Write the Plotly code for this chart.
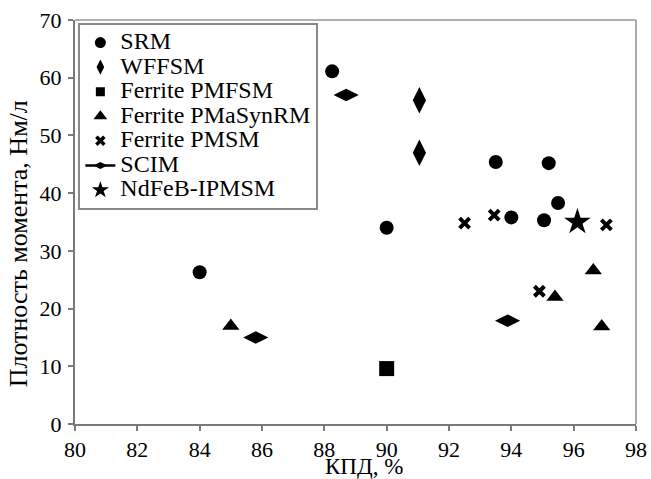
import plotly.graph_objects as go

# Data (КПД %, torque density Нм/л)
srm_x = [84.0, 88.25, 90.0, 93.5, 94.0, 95.2, 95.5, 95.05]
srm_y = [26.3, 61.1, 34.0, 45.4, 35.8, 45.2, 38.3, 35.3]

wffsm_x = [91.05, 91.05]
wffsm_y = [56.1, 47.0]

pmfsm_x = [90.0]
pmfsm_y = [9.6]

pmasynrm_x = [85.0, 96.63, 95.4, 96.9]
pmasynrm_y = [17.0, 26.6, 22.0, 16.9]

pmsm_x = [92.5, 93.45, 97.05, 94.9]
pmsm_y = [34.8, 36.2, 34.5, 23.0]

scim_x = [88.7, 85.8, 93.88]
scim_y = [57.0, 15.0, 17.9]

ndfeb_x = [96.12]
ndfeb_y = [35.0]

names = ["SRM", "WFFSM", "Ferrite PMFSM", "Ferrite PMaSynRM",
         "Ferrite PMSM", "SCIM", "NdFeB-IPMSM"]
xs = [srm_x, wffsm_x, pmfsm_x, pmasynrm_x, pmsm_x, scim_x, ndfeb_x]
ys = [srm_y, wffsm_y, pmfsm_y, pmasynrm_y, pmsm_y, scim_y, ndfeb_y]
symbols = ["circle", "diamond-tall", "square", "triangle-up",
           "x-thin-open", "diamond-wide", "star"]
sizes = [14, 19, 15, 15, 10, 18, 20]
leg_sizes = [11, 11, 9, 12, 8, 10, 13]

x_ticks = list(range(80, 99, 2))
y_ticks = list(range(0, 71, 10))

FONT = "Liberation Serif, Times New Roman, serif"
fig = go.Figure()

for name, x, y, sym, sz in zip(names, xs, ys, symbols, sizes):
    if sym == "x-thin-open":
        marker = dict(symbol=sym, size=sz, color="black",
                      line=dict(color="black", width=4))
    else:
        marker = dict(symbol=sym, size=sz, color="black",
                      line=dict(width=0))
    fig.add_trace(go.Scatter(x=x, y=y, mode="markers", name=name,
                             marker=marker, showlegend=False))

# legend entries with smaller markers
for name, sym, sz in zip(names, symbols, leg_sizes):
    if sym == "x-thin-open":
        marker = dict(symbol=sym, size=sz, color="black",
                      line=dict(color="black", width=3.5))
    else:
        marker = dict(symbol=sym, size=sz, color="black", line=dict(width=0))
    mode = "lines+markers" if sym == "diamond-wide" else "markers"
    fig.add_trace(go.Scatter(
        x=[None], y=[None], mode=mode,
        name='<span style="font-size:24px">' + name + "</span>",
        marker=marker, line=dict(color="black", width=2.5), showlegend=True))

axis_common = dict(
    showgrid=False, zeroline=False, showline=True, linecolor="#7a7a7a",
    linewidth=2, ticks="outside", ticklen=5, tickwidth=2, tickcolor="#7a7a7a",
    tickfont=dict(family=FONT, size=22, color="black"), automargin=False,
)

fig.update_xaxes(range=[80, 98], tickvals=x_ticks, **axis_common)
fig.update_yaxes(range=[0, 70], tickvals=y_ticks, ticklabelstandoff=2, **axis_common)

fig.update_layout(
    width=651, height=479,
    margin=dict(l=75, r=15, t=20, b=55),
    plot_bgcolor="white", paper_bgcolor="white",
    font=dict(family=FONT, color="black"),
    legend=dict(x=0.006, y=0.992, xanchor="left", yanchor="top",
                bgcolor="white", bordercolor="#8a8a8a", borderwidth=2,
                font=dict(family=FONT, size=16.6, color="black"),
                itemwidth=30, tracegroupgap=0),
    shapes=[
        dict(type="line", xref="paper", yref="paper", x0=0, x1=1, y0=1, y1=1,
             line=dict(color="#b0b0b0", width=2)),
        dict(type="line", xref="paper", yref="paper", x0=1, x1=1, y0=0, y1=1,
             line=dict(color="#a8a8a8", width=2)),
    ],
)
fig.add_annotation(text="КПД, %", xref="paper", yref="paper", x=0.515,
                   y=-0.104, xanchor="center", yanchor="middle", showarrow=False,
                   font=dict(family=FONT, size=23, color="black"))
fig.add_annotation(text="Плотность момента, Нм/л", xref="paper", yref="paper",
                   x=-0.1, y=0.447, xanchor="center", yanchor="middle",
                   textangle=-90, showarrow=False,
                   font=dict(family=FONT, size=26, color="black"))

fig.write_html("out.html")
